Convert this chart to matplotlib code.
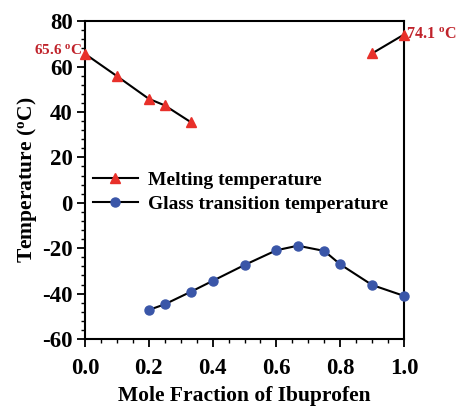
import matplotlib
matplotlib.use("Agg")
import matplotlib.pyplot as plt
from matplotlib.ticker import MultipleLocator

plt.rcParams['font.family'] = ['Liberation Serif', 'DejaVu Serif']
plt.rcParams['font.weight'] = 'bold'
plt.rcParams['mathtext.fontset'] = 'custom'
plt.rcParams['mathtext.rm'] = 'Liberation Serif:bold'
plt.rcParams['mathtext.it'] = 'Liberation Serif:bold'
plt.rcParams['mathtext.bf'] = 'Liberation Serif:bold'

# Data
melt_x1 = [0.0, 0.1, 0.2, 0.25, 0.333]
melt_y1 = [65.6, 55.8, 45.8, 42.9, 35.4]
melt_x2 = [0.9, 1.0]
melt_y2 = [65.8, 74.1]
glass_x = [0.2, 0.25, 0.333, 0.4, 0.5, 0.6, 0.667, 0.75, 0.8, 0.9, 1.0]
glass_y = [-47.2, -44.7, -39.1, -34.4, -27.4, -20.9, -18.9, -21.2, -27.1, -36.2, -41.0]
xticks = [0.0, 0.2, 0.4, 0.6, 0.8, 1.0]
yticks = [-60, -40, -20, 0, 20, 40, 60, 80]

red = '#E8302A'
blue = '#3A56A8'
darkred = '#C0232B'

fig = plt.figure(figsize=(4.58, 4.07), dpi=100)
ax = fig.add_axes([0.1856, 0.167, 0.6965, 0.781])

ax.plot(melt_x1, melt_y1, color='black', lw=1.5, marker='^', ms=7,
        mfc=red, mec=red, label='Melting temperature', clip_on=False, zorder=3)
ax.plot(melt_x2, melt_y2, color='black', lw=1.5, marker='^', ms=7,
        mfc=red, mec=red, clip_on=False, zorder=3)
ax.plot(glass_x, glass_y, color='black', lw=1.5, marker='o', ms=6.5,
        mfc=blue, mec=blue, label='Glass transition temperature', clip_on=False, zorder=3)

ax.set_xlim(0, 1.0)
ax.set_ylim(-60, 80)
ax.set_xticks(xticks)
ax.set_yticks(yticks)
ax.set_xticklabels([f'{v:.1f}' for v in xticks])
ax.set_yticklabels([str(v) for v in yticks])
ax.xaxis.set_minor_locator(MultipleLocator(0.05))
ax.yaxis.set_minor_locator(MultipleLocator(4))
ax.tick_params(axis='both', which='major', direction='out', length=6, width=1.3,
               labelsize=16.5, top=False, right=False)
ax.tick_params(axis='both', which='minor', direction='out', length=3, width=1.0,
               top=False, right=False)
ax.tick_params(axis='x', pad=8)
ax.tick_params(axis='y', pad=3)
for s in ax.spines.values():
    s.set_linewidth(1.5)

ax.set_xlabel('Mole Fraction of Ibuprofen', fontsize=15.5, fontweight='bold', labelpad=5)
ax.set_ylabel('Temperature ($^{o}$C)', fontsize=15.5, fontweight='bold')
ax.yaxis.set_label_coords(-0.145, 0.5)

ax.text(-0.01, 64.3, '65.6 $^{o}$C', color=darkred, fontsize=11, fontweight='bold',
        ha='right', va='bottom')
ax.text(1.005, 74.1, '74.1 $^{o}$C', color=darkred, fontsize=11.5, fontweight='bold',
        ha='left', va='center', clip_on=False)

leg = ax.legend(loc='upper left', bbox_to_anchor=(-0.03, 0.583), frameon=False,
                prop={'family': 'Liberation Serif', 'weight': 'bold', 'size': 14},
                handlelength=2.3, handletextpad=0.55, labelspacing=0.35)

fig.savefig('out.png', dpi=100)
